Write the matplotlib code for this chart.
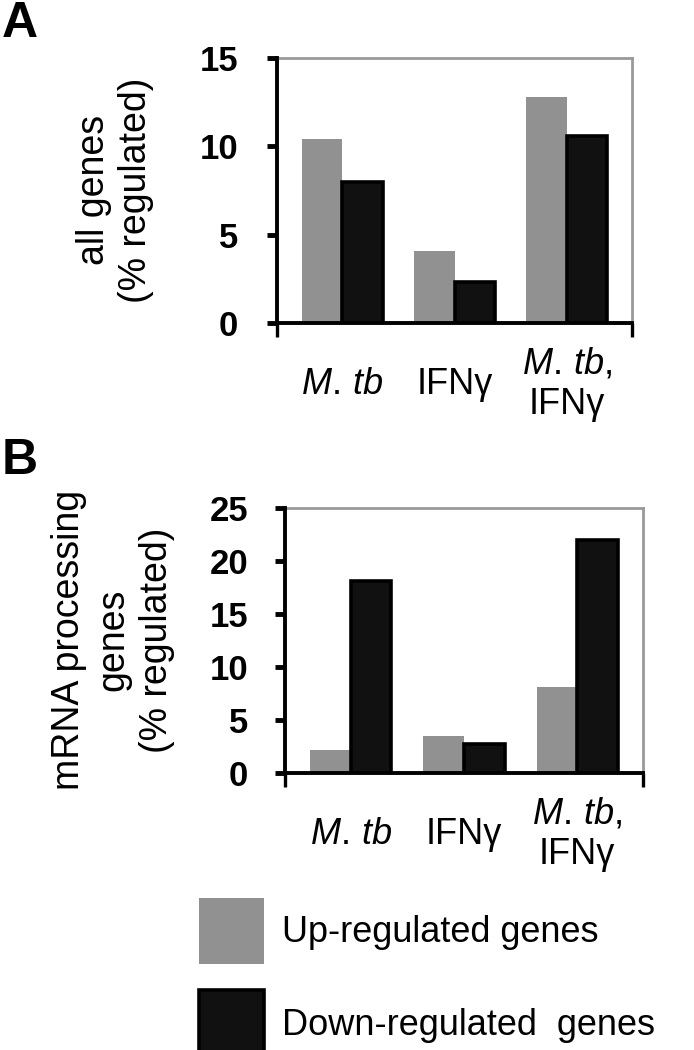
import numpy as np
import matplotlib
matplotlib.use("Agg")
import matplotlib.pyplot as plt

plt.rcParams["font.family"] = ["Liberation Sans", "DejaVu Sans"]
plt.rcParams["mathtext.fontset"] = "custom"
plt.rcParams["mathtext.rm"] = "Liberation Sans"
plt.rcParams["mathtext.it"] = "Liberation Sans:italic"

# data
groups = [r"$\mathit{M.\,tb}$", "IFNγ",
          "$\\mathit{M.\\,tb},$\nIFNγ"]
up_all = [10.4, 4.1, 12.8]
down_all = [8.0, 2.3, 10.6]
up_mrna = [2.2, 3.5, 8.1]
down_mrna = [18.1, 2.7, 22.0]
yticks_all = [0, 5, 10, 15]
yticks_mrna = [0, 5, 10, 15, 20, 25]

GRAY = "#919191"
DARK = "#111111"
W, H = 694, 1050

fig = plt.figure(figsize=(W / 100, H / 100), dpi=100)
axA = fig.add_axes([277 / W, 1 - 323 / H, 355 / W, 265 / H])
axB = fig.add_axes([285 / W, 1 - 773 / H, 358 / W, 265 / H])

XL = (-0.58, 2.58)
x = np.arange(len(groups))
bw = 0.36


def style(ax, up, down, yt, ypad):
    b1 = ax.bar(x - bw / 2, up, bw, color=GRAY, edgecolor="none", zorder=2)
    b2 = ax.bar(x + bw / 2, down, bw, color=DARK, edgecolor="black",
                linewidth=2.6, zorder=2)
    ax.set_xlim(*XL)
    ax.set_ylim(yt[0], yt[-1])
    ax.set_yticks(yt)
    ax.set_yticklabels([str(v) for v in yt], fontsize=25, fontweight="bold")
    ax.set_xticks(x)
    ax.set_xticklabels(groups, fontsize=26)
    plt.setp(ax.get_xticklabels(), va="center", multialignment="center")
    ax.set_xticks(list(XL), minor=True)
    ax.tick_params(axis="x", which="major", length=0, pad=44)
    ax.tick_params(axis="x", which="minor", length=10, width=2.4,
                   direction="out", color="black")
    ax.tick_params(axis="y", which="major", length=7, width=3.5,
                   direction="out", pad=ypad)
    for sp in ["left", "bottom"]:
        ax.spines[sp].set_linewidth(2.8)
        ax.spines[sp].set_color("black")
        ax.spines[sp].set_zorder(3)
    for sp in ["top", "right"]:
        ax.spines[sp].set_linewidth(2.0)
        ax.spines[sp].set_color("#999999")
    return b1, b2


bA = style(axA, up_all, down_all, yticks_all, 21)
bB = style(axB, up_mrna, down_mrna, yticks_mrna, 19.5)

fig.text(115 / W, 1 - 190 / H, "all genes\n(% regulated)", rotation=90,
         ha="center", va="center", multialignment="center", fontsize=27)
fig.text(113 / W, 1 - 640 / H, "mRNA processing\ngenes\n(% regulated)",
         rotation=90, ha="center", va="center", multialignment="center",
         fontsize=27, linespacing=1.3)

fig.text(2 / W, 1 - 37 / H, "A", fontsize=36, fontweight="bold", va="baseline")
fig.text(2 / W, 1 - 474 / H, "B", fontsize=36, fontweight="bold", va="baseline")

fig.legend([bA[0], bA[1]], ["Up-regulated genes", "Down-regulated  genes"],
           loc="upper left", bbox_to_anchor=(199 / W, 1 - 898 / H),
           frameon=False, fontsize=26, handlelength=1.8, handleheight=2.45,
           handletextpad=0.5, labelspacing=0.72, borderpad=0, borderaxespad=0)

fig.savefig("out.png", dpi=100)
